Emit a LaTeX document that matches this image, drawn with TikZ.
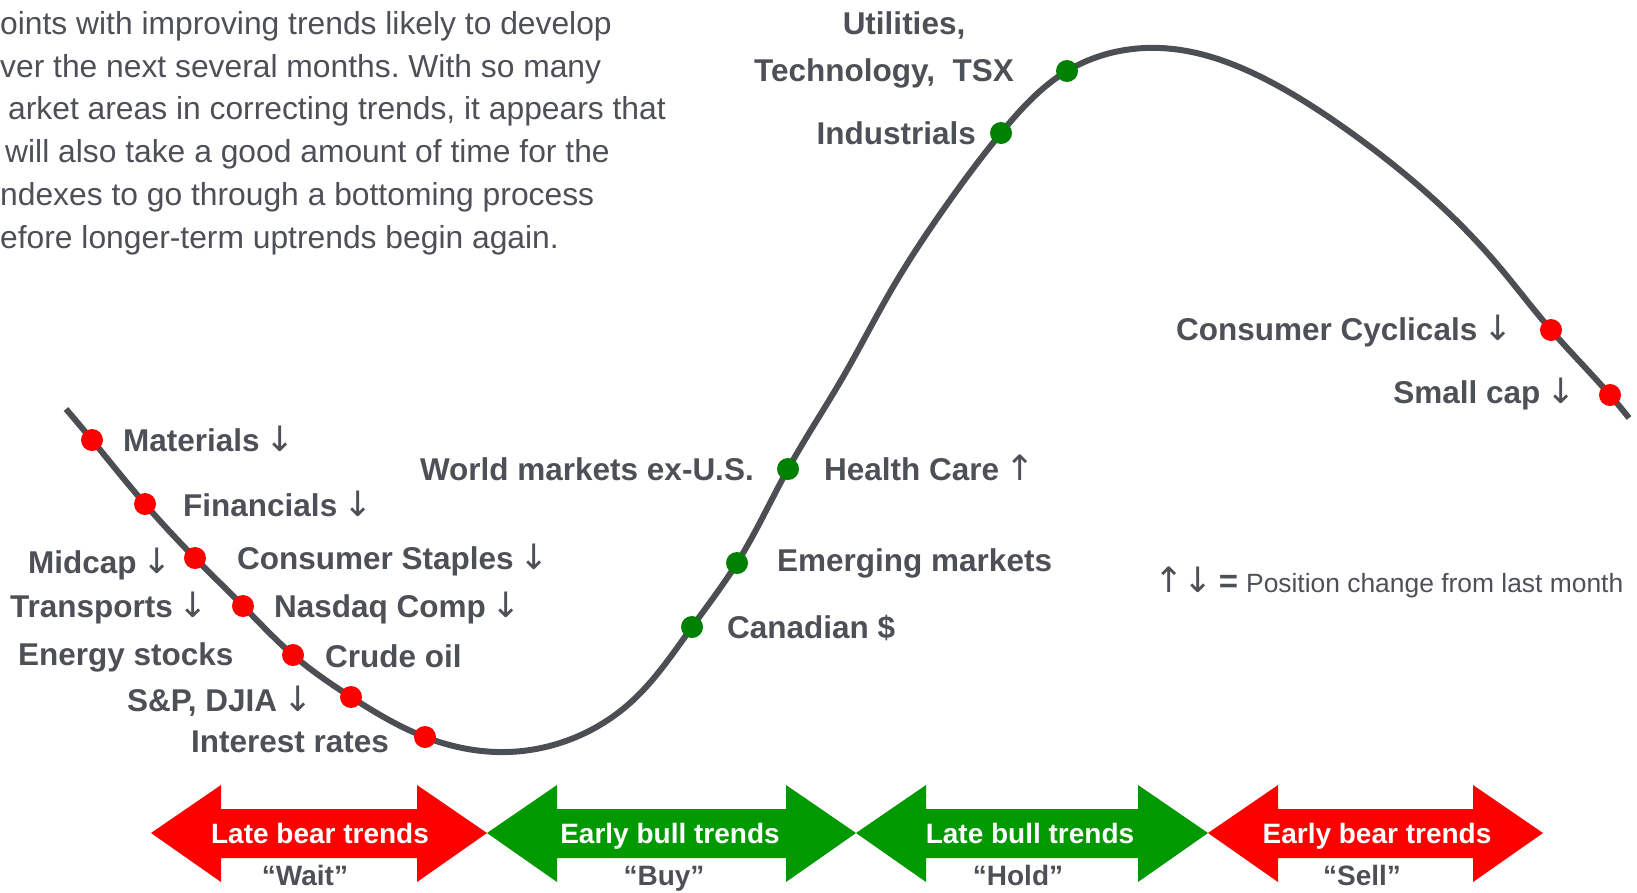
\documentclass[tikz,border=0pt]{standalone}
\usepackage{fontspec}
\setmainfont{Liberation Sans}
\newfontfamily\arrowfont{DejaVu Sans}
\usepackage{tikz}
\usetikzlibrary{hobby}

\definecolor{curvegray}{RGB}{75,78,83}
\definecolor{labelgray}{RGB}{77,80,86}
\definecolor{bullgreen}{RGB}{0,153,0}
\definecolor{dotgreen}{RGB}{0,128,0}
\definecolor{bearred}{RGB}{255,0,0}

% thin arrows after the labels
\newcommand{\downarr}{{\hspace{6pt}\arrowfont\mdseries\fontsize{35}{36}\selectfont ↓}}
\newcommand{\uparr}{{\hspace{6pt}\arrowfont\mdseries\fontsize{35}{36}\selectfont ↑}}

\frenchspacing
\begin{document}
\begin{tikzpicture}[x=1pt,y=-1pt]
    \tikzstyle{reddot}=[circle, fill=bearred, inner sep=0pt, minimum size=22pt]
    \tikzstyle{greendot}=[circle, fill=dotgreen, inner sep=0pt, minimum size=22pt]
    \tikzstyle{trendline}=[line width=6pt, curvegray]
    \tikzstyle{sector}=[inner sep=0pt, text=labelgray, font=\fontsize{31.5}{36}\selectfont\bfseries]
    \tikzstyle{bandtext}=[inner sep=0pt, anchor=base, text=white, font=\fontsize{28}{32}\selectfont\bfseries]
    \tikzstyle{verdict}=[inner sep=0pt, anchor=base, text=labelgray, font=\fontsize{28}{32}\selectfont\bfseries]

    \useasboundingbox (0,0) rectangle (1637,892);

    % intro text (cut at the left edge)
    \node[anchor=north west, inner sep=0pt, align=left, text=labelgray,
          font=\fontsize{31.8}{42.8}\selectfont] (intro) at (0,11)
        {oints with improving trends likely to develop\\
         ver the next several months. With so many\\
         \hspace*{8pt}arket areas in correcting trends, it appears that\\
         \hspace*{5pt}will also take a good amount of time for the\\
         ndexes to go through a bottoming process\\
         efore longer-term uptrends begin again.};

    % the market cycle
    \draw[trendline, use Hobby shortcut] (66,409) .. (92,440) .. (145,504) .. (195,558)
        .. (243,606) .. (293,655) .. (351,697) .. (425,737) .. (507,752) .. (563,742)
        .. (630,703) .. (692,627) .. (737,563) .. (788,469) .. (843,377) .. (893,287)
        .. (943,210) .. (1001,133) .. (1067,71) .. (1160,48) .. (1267,80) .. (1343,127)
        .. (1420,187) .. (1496,263) .. (1551,330) .. (1610,395) .. (1629,418);

    % bear side dots
    \node[reddot] (matdot) at (92,440) {};
    \node[reddot] (findot) at (145,504) {};
    \node[reddot] (stapdot) at (195,558) {};
    \node[reddot] (nasdot) at (243,606) {};
    \node[reddot] (oildot) at (293,655) {};
    \node[reddot] (spdot) at (351,697) {};
    \node[reddot] (ratedot) at (425,737) {};
    \node[reddot] (cycdot) at (1551,330) {};
    \node[reddot] (smalldot) at (1610,395) {};

    % bull side dots
    \node[greendot] (cadot) at (692,627) {};
    \node[greendot] (emdot) at (737,563) {};
    \node[greendot] (hcdot) at (788,469) {};
    \node[greendot] (inddot) at (1001,133) {};
    \node[greendot] (tsxdot) at (1067,71) {};

    % sector labels
    \node[sector, anchor=base west] (matlbl) at (123,451) {Materials\downarr};
    \node[sector, anchor=base west] (finlbl) at (183,516) {Financials\downarr};
    \node[sector, anchor=base west] (midlbl) at (28,573) {Midcap\downarr};
    \node[sector, anchor=base west] (staplbl) at (237,569) {Consumer Staples\downarr};
    \node[sector, anchor=base west] (translbl) at (10,617) {Transports\downarr};
    \node[sector, anchor=base west] (naslbl) at (274,617) {Nasdaq Comp\downarr};
    \node[sector, anchor=base west] (enlbl) at (18,665) {Energy stocks};
    \node[sector, anchor=base west] (oillbl) at (325,667) {Crude oil};
    \node[sector, anchor=base west] (splbl) at (127,711) {S\&P, DJIA\downarr};
    \node[sector, anchor=base west] (ratelbl) at (191,752) {Interest rates};
    \node[sector, anchor=base east] (worldlbl) at (754,480) {World markets ex-U.S.};
    \node[sector, anchor=base west] (hclbl) at (824,480) {Health Care\uparr};
    \node[sector, anchor=base west] (emlbl) at (777,571) {Emerging markets};
    \node[sector, anchor=base west] (calbl) at (727,638) {Canadian \$};
    \node[sector, anchor=base east] (indlbl) at (976,144) {Industrials};
    \node[sector, anchor=base] (utillbl) at (904,34) {Utilities,};
    \node[sector, anchor=base east] (techlbl) at (1014,81) {Technology,~~TSX};
    \node[sector, anchor=base west] (cyclbl) at (1176,340) {Consumer Cyclicals\downarr};
    \node[sector, anchor=base east] (smalllbl) at (1576,403) {Small cap\downarr};

    % legend
    \node[inner sep=0pt, anchor=base west, text=labelgray, font=\fontsize{26.4}{30}\selectfont]
        (legend) at (1154,592) {{\fontsize{35}{36}\selectfont\arrowfont ↑↓}\hspace{6pt}{\bfseries\fontsize{33}{33}\selectfont =}\hspace{8pt}Position change from last month};

    % trend bands
    \fill[bearred] (151,833) -- (221,785) -- (221,809) -- (417,809) -- (417,785) -- (487,833)
        -- (417,882) -- (417,858) -- (221,858) -- (221,882) -- cycle;
    \fill[bullgreen] (487,833) -- (557,785) -- (557,809) -- (786,809) -- (786,785) -- (856,833)
        -- (786,882) -- (786,858) -- (557,858) -- (557,882) -- cycle;
    \fill[bullgreen] (856,833) -- (926,785) -- (926,809) -- (1138,809) -- (1138,785) -- (1208,833)
        -- (1138,882) -- (1138,858) -- (926,858) -- (926,882) -- cycle;
    \fill[bearred] (1208,833) -- (1278,785) -- (1278,809) -- (1473,809) -- (1473,785) -- (1543,833)
        -- (1473,882) -- (1473,858) -- (1278,858) -- (1278,882) -- cycle;

    % band texts
    \node[bandtext] (latebear) at (320,843) {Late bear trends};
    \node[bandtext] (earlybull) at (670,843) {Early bull trends};
    \node[bandtext] (latebull) at (1030,843) {Late bull trends};
    \node[bandtext] (earlybear) at (1377,843) {Early bear trends};
    \node[verdict] (wait) at (305,885) {“Wait”};
    \node[verdict] (buy) at (664,885) {“Buy”};
    \node[verdict] (hold) at (1018,885) {“Hold”};
    \node[verdict] (sell) at (1362,885) {“Sell”};
\end{tikzpicture}
\end{document}
